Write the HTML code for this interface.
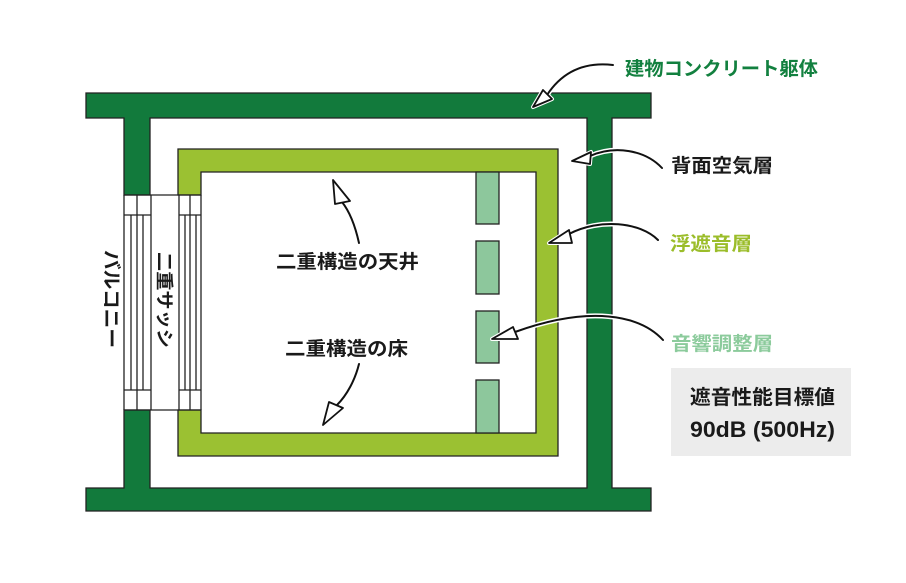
<!DOCTYPE html>
<html><head><meta charset="utf-8"><style>
html,body{margin:0;padding:0;background:#fff;}
svg{display:block;}
text{font-family:"Liberation Sans","Noto Sans CJK JP",sans-serif;font-weight:bold;}
</style></head><body>
<svg width="906" height="583" viewBox="0 0 906 583" xmlns="http://www.w3.org/2000/svg">
<rect width="906" height="583" fill="#fff"/>
<!-- concrete structure -->
<polygon points="86,93 651,93 651,118 612,118 612,488 651,488 651,511 86,511 86,488 124,488 124,410 150,410 150,488 587,488 587,118 150,118 150,195 124,195 124,118 86,118" fill="#127a3c" stroke="#222" stroke-width="1.3" stroke-linejoin="miter"/>
<!-- floating sound insulation layer -->
<polygon points="178,149 558,149 558,456 178,456 178,410 201,410 201,433 536,433 536,172 201,172 201,195 178,195" fill="#9bc132" stroke="#222" stroke-width="1.3"/>
<!-- acoustic panels -->
<g fill="#8dc79c" stroke="#222" stroke-width="1.3">
<rect x="476" y="172" width="23" height="52"/>
<rect x="476" y="241" width="23" height="53"/>
<rect x="476" y="311" width="23" height="52"/>
<rect x="476" y="380" width="23" height="53"/>
</g>
<!-- windows -->
<g stroke="#222" stroke-width="1.3" fill="none">
<line x1="124" y1="195" x2="201" y2="195"/>
<line x1="124" y1="410" x2="201" y2="410"/>
<line x1="124" y1="195" x2="124" y2="410"/>
<line x1="151" y1="195" x2="151" y2="410"/>
<line x1="179" y1="195" x2="179" y2="410"/>
<line x1="201" y1="195" x2="201" y2="410"/>
<line x1="124" y1="215" x2="151" y2="215"/>
<line x1="179" y1="215" x2="201" y2="215"/>
<line x1="124" y1="390" x2="151" y2="390"/>
<line x1="179" y1="390" x2="201" y2="390"/>
<line x1="137" y1="195" x2="137" y2="410"/>
<line x1="190" y1="195" x2="190" y2="410"/>
<line x1="131" y1="215" x2="131" y2="390"/>
<line x1="143" y1="215" x2="143" y2="390"/>
<line x1="185" y1="215" x2="185" y2="390"/>
<line x1="196" y1="215" x2="196" y2="390"/>
</g>
<!-- arrows: halo -->
<g fill="none" stroke="#fff" stroke-width="5" stroke-linecap="round">
<path d="M613,65 Q570,60 547,95"/>
<path d="M662,168 C645,150 615,145 590,156"/>
<path d="M658,240 C640,222 600,218 569,234"/>
<path d="M663,340 C640,315 590,305 515,332"/>
</g>
<g fill="#fff" stroke="#fff" stroke-width="4" stroke-linejoin="round">
<polygon points="533,107 543,90 552,99"/>
<polygon points="572,161 591,152 590,164"/>
<polygon points="549,243 569,230 572,243"/>
<polygon points="492,339 513,327 518,339"/>
</g>
<g fill="none" stroke="#111" stroke-width="2" stroke-linecap="round">
<path d="M613,65 Q570,60 547,95"/>
<path d="M662,168 C645,150 615,145 590,156"/>
<path d="M658,240 C640,222 600,218 569,234"/>
<path d="M663,340 C640,315 590,305 515,332"/>
<path d="M359,243 C355,225 350,212 342,202"/>
<path d="M359,364 C355,380 347,395 337,405"/>
</g>
<g fill="#fff" stroke="#111" stroke-width="1.8" stroke-linejoin="round">
<polygon points="533,107 543,90 552,99"/>
<polygon points="572,161 591,152 590,164"/>
<polygon points="549,243 569,230 572,243"/>
<polygon points="492,339 513,327 518,339"/>
<polygon points="333,180 335,204 350,201"/>
<polygon points="323,425 329,402 343,408"/>
</g>
<!-- labels -->
<text x="625" y="75" font-size="19" fill="#12803f" textLength="193" lengthAdjust="spacingAndGlyphs">建物コンクリート躯体</text>
<text x="671" y="172" font-size="19" fill="#1a1a1a" textLength="102" lengthAdjust="spacingAndGlyphs">背面空気層</text>
<text x="670" y="250" font-size="19" fill="#9bbd2a" textLength="82" lengthAdjust="spacingAndGlyphs">浮遮音層</text>
<text x="671" y="350" font-size="19" fill="#8ccb9c" textLength="102" lengthAdjust="spacingAndGlyphs">音響調整層</text>
<rect x="671" y="368" width="180" height="88" fill="#ececec"/>
<text x="690" y="404" font-size="20" fill="#1a1a1a" textLength="145" lengthAdjust="spacingAndGlyphs">遮音性能目標値</text>
<text x="690" y="437" font-size="22" fill="#1a1a1a" textLength="145" lengthAdjust="spacingAndGlyphs">90dB (500Hz)</text>
<text x="276" y="268" font-size="19" fill="#1a1a1a" textLength="143" lengthAdjust="spacingAndGlyphs">二重構造の天井</text>
<text x="285" y="355" font-size="19" fill="#1a1a1a" textLength="123" lengthAdjust="spacingAndGlyphs">二重構造の床</text>
<g transform="translate(112,250) rotate(90)">
<text x="0" y="7" font-size="19" fill="#1a1a1a" textLength="98" lengthAdjust="spacingAndGlyphs">バルコニー</text>
</g>
<g transform="translate(165,252) rotate(90)">
<text x="0" y="7" font-size="18" fill="#1a1a1a" textLength="96" lengthAdjust="spacingAndGlyphs">二重サッシ</text>
</g>
</svg>
</body></html>
